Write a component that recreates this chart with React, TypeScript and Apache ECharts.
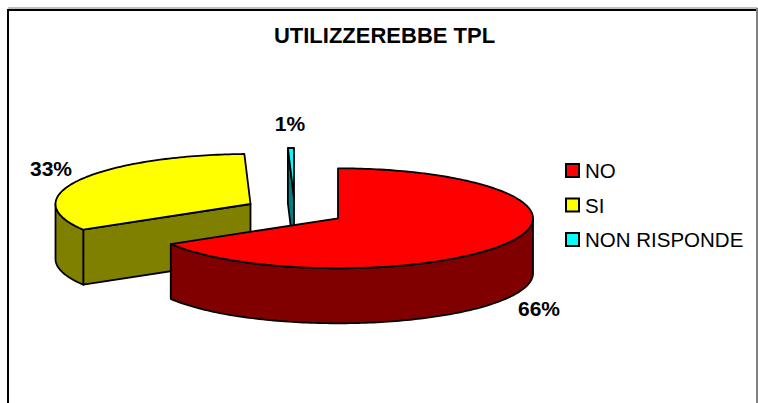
import React, { useEffect, useRef } from "react";
import * as echarts from "echarts";

const chartTitle = "UTILIZZEREBBE TPL";
const categories = ["NO", "SI", "NON RISPONDE"];
const values = [66.4, 33.1, 0.5];
const percentLabels = ["66%", "33%", "1%"];
const topColors = ["#FF0000", "#FFFF00", "#00FFFF"];
const wallColors = ["#800000", "#808000", "#008080"];

// pie projection
const RX = 195;
const RY = 50;
const DEPTH = 55;
const centers = [
  [338, 218.3],
  [250.5, 204],
  [294, 198],
];
const labelPos = [
  [539, 308],
  [51, 168],
  [290, 123],
];

const total = values.reduce((a, b) => a + b, 0);
const P = (c: number[], t: number, dy = 0) => [c[0] + RX * Math.sin(t), c[1] - RY * Math.cos(t) + dy];

function arc(c: number[], a: number, b: number, dy = 0) {
  const pts: number[][] = [];
  const n = Math.max(2, Math.ceil(Math.abs(b - a) / 0.02));
  for (let i = 0; i <= n; i++) pts.push(P(c, a + ((b - a) * i) / n, dy));
  return pts;
}

function sliceRenderer(idx: number) {
  return (_p: any, api: any) => {
    const before = values.slice(0, idx).reduce((a, b) => a + b, 0);
    const t0 = (before / total) * 2 * Math.PI;
    const t1 = t0 + (api.value(0) / total) * 2 * Math.PI;
    const c = centers[idx];
    const wallStyle = { fill: wallColors[idx], stroke: "#000", lineWidth: 1.8, lineJoin: "round" };
    const children: any[] = [];
    const wall = (t: number) => {
      const e = P(c, t);
      children.push({
        type: "polygon",
        shape: { points: [c, e, [e[0], e[1] + DEPTH], [c[0], c[1] + DEPTH]] },
        style: wallStyle,
      });
    };
    if (Math.sin(t0) < -1e-6) wall(t0);
    if (Math.sin(t1) > 1e-6) wall(t1);
    const a = Math.max(t0, Math.PI / 2);
    const b = Math.min(t1, (3 * Math.PI) / 2);
    if (b > a) {
      children.push({
        type: "polygon",
        shape: { points: [...arc(c, a, b), ...arc(c, b, a, DEPTH)] },
        style: wallStyle,
      });
    }
    children.push({
      type: "polygon",
      shape: { points: [c, ...arc(c, t0, t1)] },
      style: { fill: topColors[idx], stroke: "#000", lineWidth: 1.8, lineJoin: "round" },
    });
    children.push({
      type: "text",
      x: labelPos[idx][0],
      y: labelPos[idx][1],
      style: {
        text: percentLabels[idx],
        fill: "#000",
        font: 'bold 21px "Liberation Sans"',
        align: "center",
        verticalAlign: "middle",
      },
    });
    return { type: "group", children };
  };
}

export default function App() {
  const ref = useRef<HTMLDivElement>(null);
  useEffect(() => {
    const chart = echarts.init(ref.current!, undefined, { renderer: "svg" });
    chart.setOption({
      animation: false,
      backgroundColor: "#fff",
      title: {
        text: chartTitle,
        left: 379.5,
        top: 19,
        textAlign: "center",
        textStyle: { fontFamily: "Liberation Sans", fontWeight: "bold", fontSize: 22, color: "#000" },
      },
      legend: {
        orient: "vertical",
        left: 560,
        top: 155,
        selectedMode: false,
        itemWidth: 13,
        itemHeight: 13,
        itemGap: 13.5,
        textStyle: { fontFamily: "Liberation Sans", fontSize: 20.5, color: "#000", padding: [0, 0, 0, 1] },
        data: categories.map((name, i) => ({
          name,
          icon: "rect",
          itemStyle: { color: topColors[i], borderColor: "#000", borderWidth: 2 },
        })),
      },
      graphic: [
        { type: "line", shape: { x1: 8, y1: 8, x2: 757, y2: 8 }, style: { stroke: "#808080", lineWidth: 1 } },
        { type: "line", shape: { x1: 7, y1: 10, x2: 757, y2: 10 }, style: { stroke: "#000", lineWidth: 2 } },
        { type: "line", shape: { x1: 8, y1: 9, x2: 8, y2: 403 }, style: { stroke: "#000", lineWidth: 2 } },
        { type: "line", shape: { x1: 757, y1: 8, x2: 757, y2: 403 }, style: { stroke: "#808080", lineWidth: 2 } },
      ],
      series: [2, 1, 0].map((idx) => ({
        type: "custom",
        name: categories[idx],
        coordinateSystem: "none",
        silent: true,
        z: 3 - idx,
        data: [[values[idx]]],
        renderItem: sliceRenderer(idx),
      })),
    });
    return () => chart.dispose();
  }, []);
  return <div ref={ref} style={{ position: "fixed", left: 0, top: 0, width: 758, height: 403 }} />;
}
